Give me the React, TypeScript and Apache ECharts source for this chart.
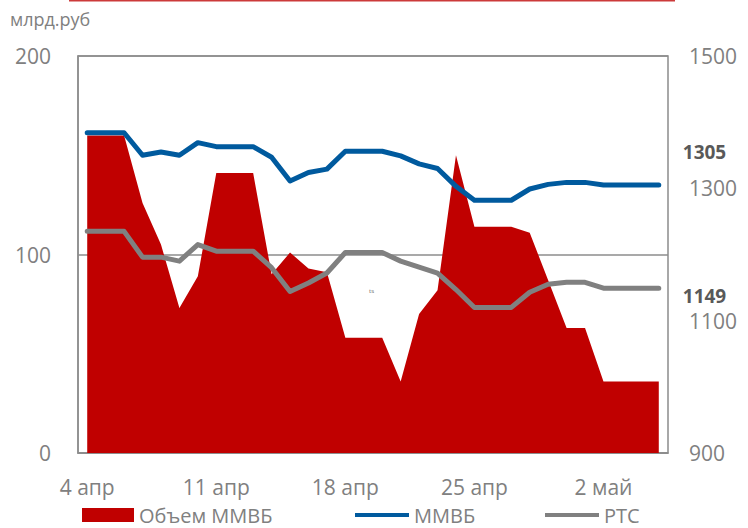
import React, { useEffect, useRef } from "react";
import * as echarts from "echarts";

const categories = [
  "4 апр", "5 апр", "6 апр", "7 апр", "8 апр", "9 апр", "10 апр",
  "11 апр", "12 апр", "13 апр", "14 апр", "15 апр", "16 апр", "17 апр",
  "18 апр", "19 апр", "20 апр", "21 апр", "22 апр", "23 апр", "24 апр",
  "25 апр", "26 апр", "27 апр", "28 апр", "29 апр", "30 апр", "1 май",
  "2 май", "3 май", "4 май", "5 май",
];

const volumeMICEX = [
  160, 160, 160, 126, 105, 73, 89, 141, 141, 141, 90, 101, 93, 91, 58, 58,
  58, 36, 70, 82, 150, 114, 114, 114, 111, 87, 63, 63, 36, 36, 36, 36,
];

const indexMICEX = [
  1384, 1384, 1384, 1350, 1355, 1350, 1369, 1363, 1363, 1363, 1347, 1311,
  1324, 1329, 1356, 1356, 1356, 1349, 1337, 1330, 1303, 1282, 1282, 1282,
  1299, 1306, 1309, 1309, 1305, 1305, 1305, 1305,
];

const indexRTS = [
  1235, 1235, 1235, 1196, 1196, 1190, 1215, 1205, 1205, 1205, 1180, 1144,
  1157, 1172, 1203, 1203, 1203, 1190, 1181, 1172, 1147, 1120, 1120, 1120,
  1143, 1155, 1158, 1158, 1149, 1149, 1149, 1149,
];

const leftTicks = [0, 100, 200];
const rightTicks = [900, 1100, 1300, 1500];

const seriesNames = ["Объем ММВБ", "ММВБ", "РТС"];
const unitLabel = "млрд.руб";

const FONT = "'Open Sans', sans-serif";
const GRAY = "#808080";
const LINE_ICON = "path://M0,0L55,0L55,4L0,4Z";

export default function App() {
  const ref = useRef<HTMLDivElement>(null);
  useEffect(() => {
    if (!ref.current) return;
    const chart = echarts.init(ref.current, null, { renderer: "svg" });
    const legendBase = {
      top: 505,
      itemWidth: 54,
      itemHeight: 14,
      padding: 0,
      symbolKeepAspect: true,
      textStyle: { color: GRAY, fontSize: 20, lineHeight: 20, fontFamily: FONT },
    };
    chart.setOption({
      animation: false,
      backgroundColor: "#ffffff",
      textStyle: { fontFamily: FONT },
      grid: {
        left: 78,
        right: 80,
        top: 56,
        bottom: 75,
        show: true,
        borderColor: "#8c8c8c",
        borderWidth: 1.5,
        containLabel: false,
      },
      legend: [
        { ...legendBase, left: 82, itemWidth: 52, data: [{ name: seriesNames[0], icon: "rect" }] },
        { ...legendBase, left: 355, data: [{ name: seriesNames[1], icon: LINE_ICON }] },
        { ...legendBase, left: 545, data: [{ name: seriesNames[2], icon: LINE_ICON }] },
      ],
      xAxis: {
        type: "category",
        data: categories,
        boundaryGap: true,
        axisTick: { show: false },
        axisLine: { show: true, lineStyle: { color: "#8c8c8c", width: 1.5 } },
        axisLabel: {
          interval: 6,
          color: GRAY,
          fontSize: 21,
          fontFamily: FONT,
          margin: 23,
        },
        splitLine: { show: false },
      },
      yAxis: [
        {
          type: "value",
          min: leftTicks[0],
          max: leftTicks[leftTicks.length - 1],
          interval: 100,
          axisLine: { show: true, lineStyle: { color: "#8c8c8c", width: 1.5 } },
          axisTick: { show: false },
          axisLabel: { color: GRAY, fontSize: 21, fontFamily: FONT, margin: 27 },
          splitLine: { show: true, lineStyle: { color: "#8c8c8c", width: 1.5 } },
        },
        {
          type: "value",
          min: rightTicks[0],
          max: rightTicks[rightTicks.length - 1],
          interval: 100,
          position: "right",
          axisLine: { show: false },
          axisTick: { show: false },
          axisLabel: {
            color: GRAY,
            fontSize: 21,
            fontFamily: FONT,
            margin: 21,
            formatter: (v: number) => (rightTicks.includes(v) ? String(v) : ""),
          },
          splitLine: { show: false },
        },
      ],
      series: [
        {
          name: seriesNames[0],
          type: "line",
          yAxisIndex: 0,
          data: volumeMICEX,
          symbol: "none",
          lineStyle: { width: 0, color: "#c00000" },
          itemStyle: { color: "#c00000" },
          areaStyle: { color: "#c00000", opacity: 1 },
          z: 1,
        },
        {
          name: seriesNames[1],
          type: "line",
          yAxisIndex: 1,
          data: indexMICEX,
          symbol: "none",
          lineStyle: { width: 5, color: "#005a9e", cap: "round", join: "round" },
          itemStyle: { color: "#005a9e" },
          endLabel: {
            show: true,
            formatter: (p: any) => String(p.value),
            offset: [16, -33],
            color: "#595959",
            fontWeight: "bold",
            fontSize: 19,
            fontFamily: FONT,
          },
          z: 3,
        },
        {
          name: seriesNames[2],
          type: "line",
          yAxisIndex: 1,
          data: indexRTS,
          symbol: "none",
          lineStyle: { width: 5, color: "#808080", cap: "round", join: "round" },
          itemStyle: { color: "#808080" },
          endLabel: {
            show: true,
            formatter: (p: any) => String(p.value),
            offset: [16, 8],
            color: "#595959",
            fontWeight: "bold",
            fontSize: 19,
            fontFamily: FONT,
          },
          z: 2,
        },
      ],
      graphic: [
        {
          type: "line",
          shape: { x1: 69, y1: 0.5, x2: 675, y2: 0.5 },
          style: { stroke: "#cc3a3a", lineWidth: 2 },
        },
        {
          type: "text",
          left: 10,
          top: 10,
          style: { text: unitLabel, fill: GRAY, fontSize: 18, fontFamily: FONT },
        },
        {
          type: "text",
          left: 369,
          top: 288,
          style: { text: "ts", fill: "#666", fontSize: 6, fontFamily: FONT },
        },
      ],
    });
    return () => chart.dispose();
  }, []);
  return (
    <div
      ref={ref}
      style={{ position: "absolute", left: 0, top: 0, width: 748, height: 528 }}
    />
  );
}
